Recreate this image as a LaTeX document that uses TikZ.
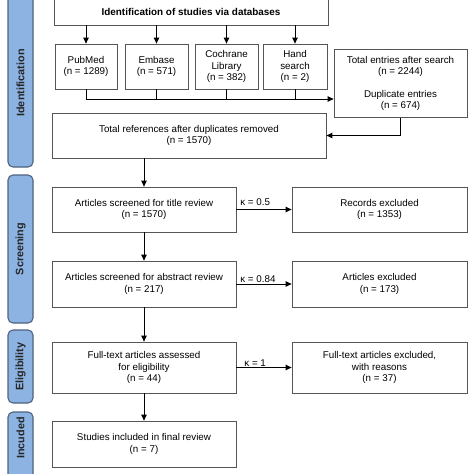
\documentclass[tikz,border=0pt]{standalone}
\usepackage{fontspec}
\setmainfont{Liberation Sans}
\usetikzlibrary{arrows.meta}
\definecolor{sidefill}{HTML}{8DB3E2}
\definecolor{sidedraw}{HTML}{4F6280}
\definecolor{boxdraw}{HTML}{555555}
\tikzset{
  box/.style={draw=boxdraw, line width=0.8pt, fill=white, align=center, inner sep=2pt,
    font=\fontsize{9.8}{11.2}\selectfont},
  arr/.style={line width=0.9pt, -{Triangle[length=6pt,width=5.5pt]}},
  ln/.style={line width=0.9pt},
  side/.style={draw=sidedraw, fill=sidefill, line width=1.1pt, rounded corners=5pt},
  sidetext/.style={rotate=90, font=\fontsize{10.8}{12}\bfseries\selectfont, text=black!85},
  kap/.style={font=\fontsize{9.8}{11}\selectfont, inner sep=1pt}
}
\begin{document}
\begin{tikzpicture}[x=1pt,y=-1pt]
\clip (0,0) rectangle (474,474);
\fill[white] (0,0) rectangle (474,474);
% sidebars
\draw[side] (8,-10) rectangle (33,167);
\node[sidetext] (sid) at (20.5,83) {Identification};
\draw[side] (8,175) rectangle (33,323);
\node[sidetext] (sscr) at (20.5,249) {Screening};
\draw[side] (8,330) rectangle (33,403);
\node[sidetext] (selig) at (20.5,366.5) {Eligibility};
\draw[side] (8,412) rectangle (33,500);
\node[sidetext] (sinc) at (20.5,438) {Incuded};
% boxes
\node[box, minimum width=274, minimum height=27, font=\fontsize{9.9}{11}\bfseries\selectfont] (top) at (191,11.5) {Identification of studies via databases};
\node[box, minimum width=62, minimum height=45] (pub) at (86,66.5) {PubMed\\(n = 1289)};
\node[box, minimum width=63, minimum height=45] (emb) at (156.5,66.5) {Embase\\(n = 571)};
\node[box, minimum width=63, minimum height=45] (coch) at (226.5,66.5) {Cochrane\\Library\\(n = 382)};
\node[box, minimum width=64, minimum height=45] (hand) at (295,66.5) {Hand\\search\\(n = 2)};
\node[box, minimum width=133, minimum height=68] (tot) at (400.5,83.5) {Total entries after search\\(n = 2244)\\[12pt]Duplicate entries\\(n = 674)};
\node[box, minimum width=274, minimum height=45] (ref) at (189,135.5) {Total references after duplicates removed\\(n = 1570)};
\node[box, minimum width=184, minimum height=45] (title) at (144,209.5) {Articles screened for title review\\(n = 1570)};
\node[box, minimum width=175, minimum height=45] (rec) at (379.5,209.5) {Records excluded\\(n = 1353)};
\node[box, minimum width=184, minimum height=46] (abs) at (144,284) {Articles screened for abstract review\\(n = 217)};
\node[box, minimum width=175, minimum height=46] (aex) at (379.5,284) {Articles excluded\\(n = 173)};
\node[box, minimum width=184, minimum height=51] (full) at (144,367.5) {Full-text articles assessed\\for eligibility\\(n = 44)};
\node[box, minimum width=175, minimum height=51] (fex) at (379.5,367.5) {Full-text articles excluded,\\with reasons\\(n = 37)};
\node[box, minimum width=184, minimum height=46] (inc) at (144,444) {Studies included in final review\\(n = 7)};
% connectors
\foreach \b in {pub,emb,coch,hand}{
  \draw[arr] (top.south -| \b.north) -- (\b.north);
}
\coordinate (busL) at (86,99);
\foreach \b in {pub,emb,coch,hand}{
  \draw[ln] (\b.south) -- (\b.south |- busL);
}
\draw[arr] (busL) -- (busL -| tot.west);
\draw[arr] (tot.south) |- (ref.east);
\draw[arr] (title.north |- ref.south) -- (title.north);
\draw[arr] (title.east) -- node[kap, above, pos=0.34, yshift=2pt] {κ = 0.5} (rec.west);
\draw[arr] (title.south) -- (abs.north);
\draw[arr] (abs.east) -- node[kap, above, pos=0.39] {κ = 0.84} (aex.west);
\draw[arr] (abs.south) -- (full.north);
\draw[arr] (full.east) -- node[kap, above, pos=0.34] {κ = 1} (fex.west);
\draw[arr] (full.south) -- (inc.north);
\end{tikzpicture}
\end{document}
